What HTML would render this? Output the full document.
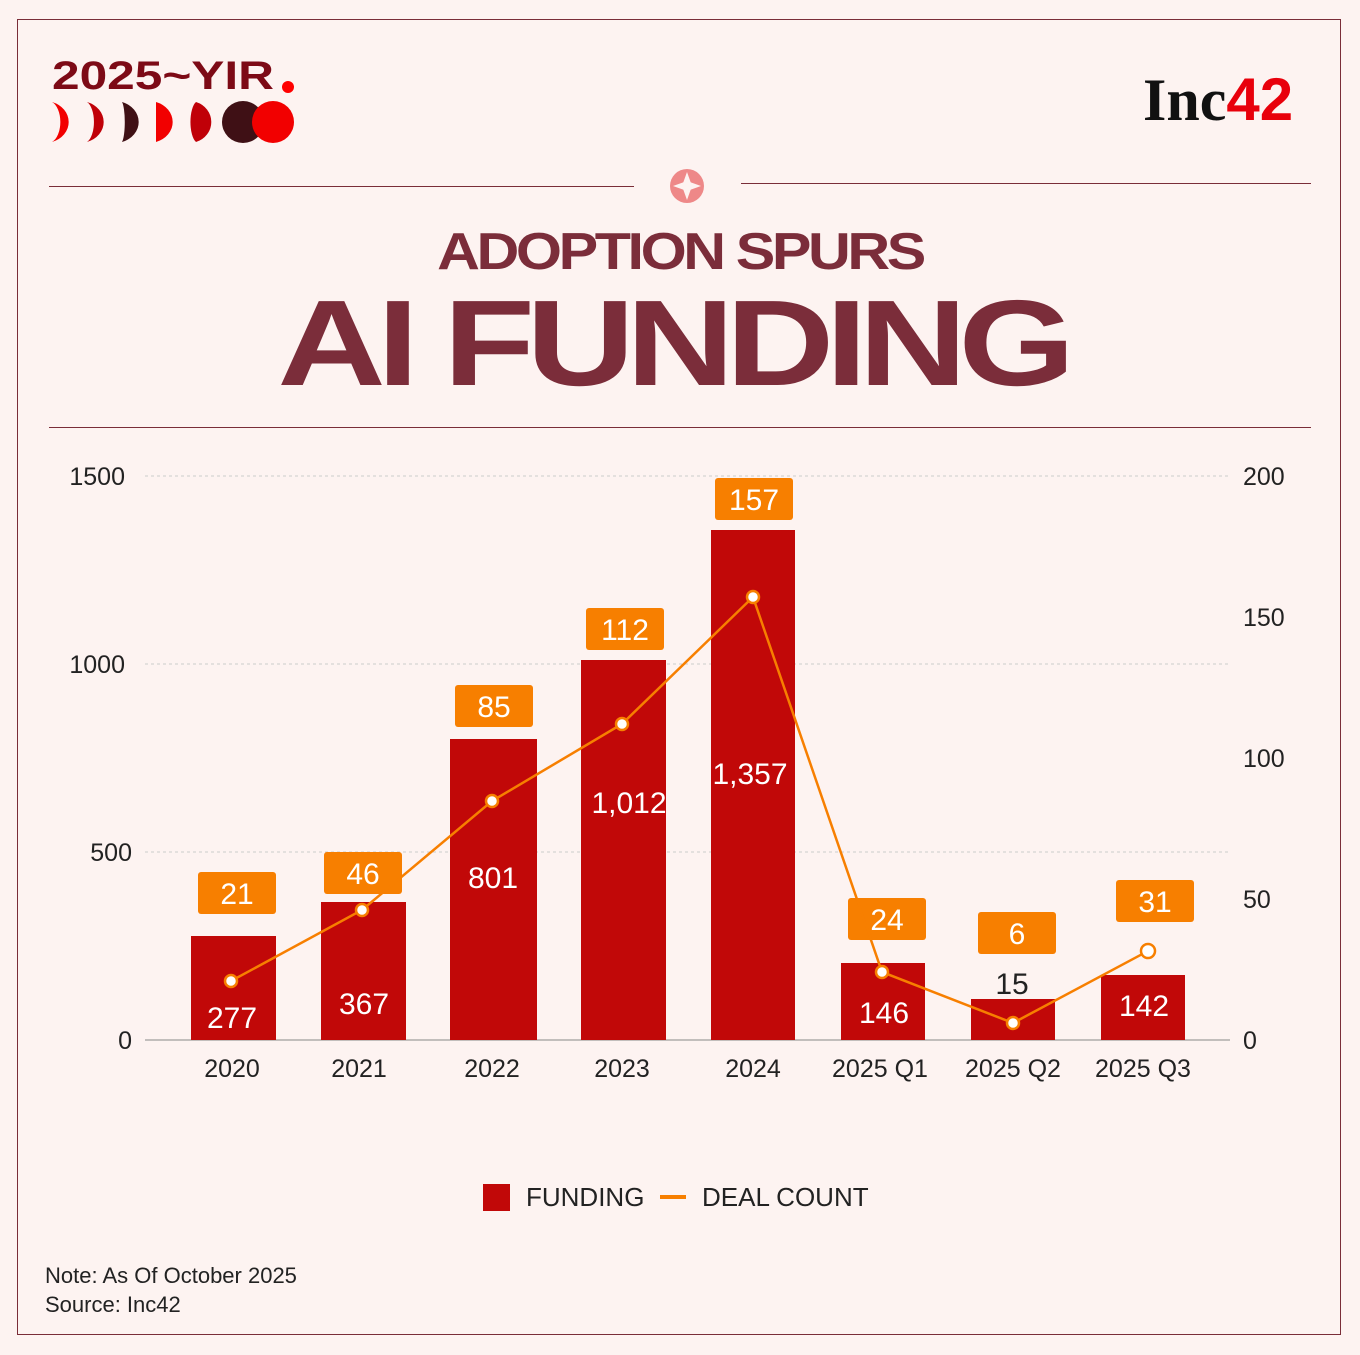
<!DOCTYPE html>
<html><head><meta charset="utf-8"><style>
body{margin:0;width:1360px;height:1355px;background:#fdf3f1;font-family:"Liberation Sans",sans-serif;position:relative;overflow:hidden}
.a{position:absolute}
</style></head><body>
<div class="a" style="left:17px;top:19px;width:1322px;height:1314px;border:1px solid #7a2d38"></div>
<div class="a" style="left:52px;top:56px;font-size:40px;font-weight:bold;color:#7d0a16;line-height:40px;transform:scaleX(1.24);transform-origin:left">2025~YIR</div>
<div class="a" style="left:282px;top:81px;width:12px;height:12px;border-radius:50%;background:#f00"></div>
<svg class="a" style="left:50px;top:100px" width="250" height="45">
<path d="M2 2 A24 21 0 0 1 2 42 A12 21 0 0 0 2 2Z" fill="#f20000"/>
<path d="M37 2 A24 21 0 0 1 37 42 A10 21 0 0 0 37 2Z" fill="#c00008"/>
<path d="M72 2 A24 21 0 0 1 72 42 A4 21 0 0 0 72 2Z" fill="#3f1015"/>
<path d="M106 2 A24 21 0 0 1 106 42Z" fill="#f20000"/>
<path d="M146 2 A22 21 0 0 1 146 42 A8 21 0 0 1 146 2Z" fill="#c00008"/>
<circle cx="193" cy="22" r="21" fill="#3f1015"/>
<circle cx="223" cy="22" r="21" fill="#f20000"/>
</svg>
<div class="a" style="left:1143px;top:68px;font-family:'Liberation Serif',serif;font-weight:bold;font-size:60px;color:#111;line-height:64px">Inc<span style="color:#e8000b;font-family:'Liberation Sans',sans-serif">42</span></div>
<div class="a" style="left:49px;top:186px;width:585px;height:1px;background:#7a2d38"></div>
<div class="a" style="left:741px;top:183px;width:570px;height:1px;background:#7a2d38"></div>
<svg class="a" style="left:668px;top:167px" width="38" height="38"><circle cx="19" cy="19" r="17" fill="#e88"/><path d="M19 5 L24 19 L19 33 L14 19Z" fill="#fdf3f1"/><path d="M5 19 L19 14 L33 19 L19 24Z" fill="#fdf3f1"/></svg>
<div class="a" style="left:0;width:1360px;top:222px;text-align:center;font-size:52px;font-weight:bold;color:#7b2d3a;letter-spacing:-3px;transform:scaleX(1.14)">ADOPTION SPURS</div>
<div class="a" style="left:-8px;width:1360px;top:278px;text-align:center;font-size:122px;font-weight:bold;color:#7b2d3a;letter-spacing:-7px;line-height:130px;transform:scaleX(1.23)">AI FUNDING</div>
<div class="a" style="left:49px;top:427px;width:1262px;height:1px;background:#7a2d38"></div>
<svg class="a" style="left:0;top:0" width="1360" height="1355" font-family="Liberation Sans, sans-serif">
<g stroke="#ccc" stroke-dasharray="3 3"><line x1="145" x2="1230" y1="476" y2="476"/><line x1="145" x2="1230" y1="664" y2="664"/><line x1="145" x2="1230" y1="852" y2="852"/></g>
<line x1="145" x2="1230" y1="1040" y2="1040" stroke="#888"/>
<g font-size="25" fill="#222" text-anchor="end"><text x="125" y="485">1500</text><text x="125" y="673">1000</text><text x="132" y="861">500</text><text x="132" y="1049">0</text></g>
<g font-size="25" fill="#222"><text x="1243" y="485">200</text><text x="1243" y="626">150</text><text x="1243" y="767">100</text><text x="1243" y="908">50</text><text x="1243" y="1049">0</text></g>
<g fill="#c10808">
<rect x="191" y="936" width="85" height="104"/><rect x="321" y="902" width="85" height="138"/><rect x="450" y="739" width="87" height="301"/><rect x="581" y="660" width="85" height="380"/><rect x="711" y="530" width="84" height="510"/><rect x="841" y="963" width="84" height="77"/><rect x="971" y="999" width="84" height="41"/><rect x="1101" y="975" width="84" height="65"/></g>
<g fill="#f77f00">
<rect x="198" y="872" width="78" height="42" rx="3"/><rect x="324" y="852" width="78" height="42" rx="3"/><rect x="455" y="685" width="78" height="42" rx="3"/><rect x="586" y="608" width="78" height="42" rx="3"/><rect x="715" y="478" width="78" height="42" rx="3"/><rect x="848" y="898" width="78" height="42" rx="3"/><rect x="978" y="912" width="78" height="42" rx="3"/><rect x="1116" y="880" width="78" height="42" rx="3"/></g>
<g font-size="30" fill="#fff" text-anchor="middle">
<text x="237" y="904">21</text><text x="363" y="884">46</text><text x="494" y="717">85</text><text x="625" y="640">112</text><text x="754" y="510">157</text><text x="887" y="930">24</text><text x="1017" y="944">6</text><text x="1155" y="912">31</text>
<text x="232" y="1028">277</text><text x="364" y="1014">367</text><text x="493" y="888">801</text><text x="629" y="813">1,012</text><text x="750" y="784">1,357</text><text x="884" y="1023">146</text><text x="1144" y="1016">142</text></g>
<text x="1012" y="994" font-size="30" fill="#222" text-anchor="middle">15</text>
<polyline points="231,981 362,910 492,801 622,724 753,597 882,972 1013,1023 1148,951" fill="none" stroke="#f77f00" stroke-width="2.5"/>
<g fill="#fff" stroke="#f77f00" stroke-width="2.5"><circle cx="231" cy="981" r="6"/><circle cx="362" cy="910" r="6"/><circle cx="492" cy="801" r="6"/><circle cx="622" cy="724" r="6"/><circle cx="753" cy="597" r="6"/><circle cx="882" cy="972" r="6"/><circle cx="1013" cy="1023" r="6"/><circle cx="1148" cy="951" r="7"/></g>
<g font-size="25" fill="#222" text-anchor="middle"><text x="232" y="1077">2020</text><text x="359" y="1077">2021</text><text x="492" y="1077">2022</text><text x="622" y="1077">2023</text><text x="753" y="1077">2024</text><text x="880" y="1077">2025 Q1</text><text x="1013" y="1077">2025 Q2</text><text x="1143" y="1077">2025 Q3</text></g>
<rect x="483" y="1184" width="27" height="27" fill="#c10808"/>
<text x="526" y="1206" font-size="26" fill="#222">FUNDING</text>
<rect x="660" y="1195" width="26" height="4" fill="#f77f00"/>
<text x="702" y="1206" font-size="26" fill="#222">DEAL COUNT</text>
<text x="45" y="1283" font-size="22" fill="#222">Note: As Of October 2025</text>
<text x="45" y="1312" font-size="22" fill="#222">Source: Inc42</text>
</svg>
</body></html>
